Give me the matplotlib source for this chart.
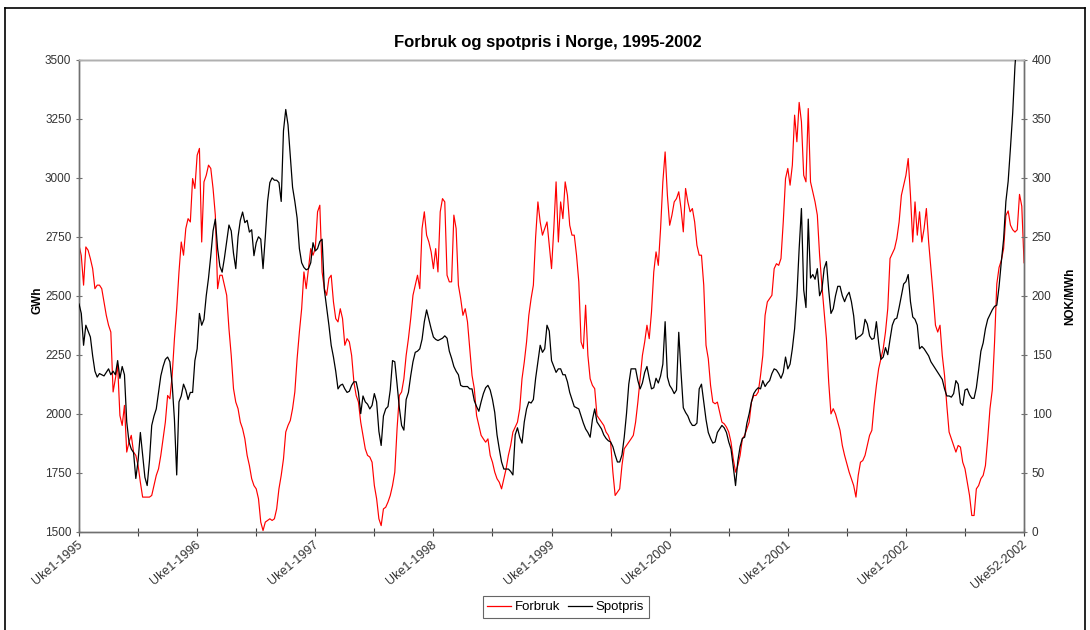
import numpy as np
import matplotlib
matplotlib.use("Agg")
import matplotlib.pyplot as plt
from matplotlib.lines import Line2D

plt.rcParams['font.family'] = ['Liberation Sans', 'DejaVu Sans']

# ukentlig forbruk (GWh), uke 1-1995 til uke 52-2002
forbruk = [
    2714, 2670, 2545, 2707, 2693, 2657, 2615, 2530, 2545, 2545, 2530, 2474, 2417, 2375, 2346, 2092,
    2148, 2205, 1992, 1950, 2035, 1837, 1879, 1908, 1837, 1823, 1780, 1709, 1646, 1646, 1646, 1646,
    1653, 1695, 1738, 1766, 1823, 1893, 1964, 2077, 2063, 2162, 2318, 2445, 2601, 2728, 2672, 2785,
    2827, 2813, 2997, 2955, 3096, 3125, 2728, 2983, 3011, 3054, 3040, 2955, 2842, 2530, 2587, 2587,
    2545, 2502, 2360, 2247, 2106, 2049, 2021, 1964, 1936, 1893, 1823, 1780, 1724, 1695, 1681, 1639,
    1540, 1504, 1540, 1547, 1554, 1547, 1554, 1596, 1681, 1738, 1808, 1922, 1950, 1971, 2021, 2092,
    2233, 2346, 2445, 2601, 2530, 2615, 2700, 2672, 2700, 2856, 2884, 2601, 2530, 2502, 2573, 2587,
    2474, 2403, 2389, 2445, 2403, 2290, 2318, 2304, 2247, 2134, 2077, 2049, 1964, 1908, 1851, 1823,
    1816, 1794, 1695, 1639, 1554, 1525, 1596, 1603, 1625, 1653, 1695, 1752, 1936, 2077, 2092, 2148,
    2247, 2318, 2403, 2502, 2545, 2587, 2530, 2785, 2856, 2757, 2728, 2686, 2615, 2700, 2601, 2856,
    2912, 2898, 2587, 2559, 2559, 2842, 2785, 2545, 2488, 2417, 2445, 2389, 2276, 2162, 2106, 1992,
    1950, 1908, 1893, 1879, 1893, 1823, 1794, 1752, 1724, 1709, 1681, 1724, 1766, 1823, 1865, 1922,
    1943, 1964, 2021, 2148, 2219, 2304, 2417, 2488, 2545, 2750, 2898, 2813, 2757, 2785, 2813, 2714,
    2615, 2785, 2983, 2728, 2898, 2827, 2983, 2926, 2799, 2757, 2757, 2672, 2559, 2304, 2276, 2460,
    2247, 2148, 2120, 2106, 1992, 1978, 1964, 1950, 1922, 1908, 1879, 1752, 1653, 1667, 1681, 1780,
    1851, 1865, 1879, 1893, 1908, 1964, 2049, 2148, 2247, 2304, 2375, 2318, 2431, 2601, 2686, 2629,
    2785, 2983, 3110, 2926, 2799, 2842, 2898, 2912, 2941, 2870, 2771, 2955, 2898, 2856, 2870, 2813,
    2714, 2672, 2672, 2545, 2290, 2233, 2120, 2049, 2042, 2049, 2007, 1964, 1957, 1943, 1922, 1879,
    1808, 1752, 1780, 1823, 1893, 1908, 1936, 1964, 2049, 2077, 2077, 2092, 2162, 2247, 2417, 2474,
    2488, 2502, 2615, 2636, 2629, 2658, 2813, 2997, 3040, 2969, 3054, 3266, 3153, 3320, 3238, 3011,
    2983, 3294, 2983, 2941, 2898, 2842, 2672, 2545, 2431, 2318, 2134, 1999, 2021, 1999, 1964, 1929,
    1865, 1823, 1787, 1752, 1724, 1695, 1646, 1738, 1794, 1801, 1823, 1865, 1908, 1929, 2035, 2120,
    2191, 2233, 2276, 2346, 2445, 2658, 2679, 2700, 2743, 2813, 2926, 2969, 3011, 3082, 2926, 2728,
    2898, 2757, 2856, 2728, 2785, 2870, 2728, 2615, 2502, 2375, 2346, 2375, 2247, 2162, 2035, 1922,
    1893, 1865, 1837, 1865, 1858, 1794, 1766, 1709, 1653, 1568, 1568, 1681, 1695, 1724, 1738, 1780,
    1893, 2021, 2100, 2300, 2550, 2620, 2650, 2700, 2840, 2860, 2800, 2780, 2770, 2780, 2930, 2880,
    2640,
]

# ukentlig spotpris (NOK/MWh)
spotpris = [
    193, 185, 158, 175, 170, 165, 149, 136, 131, 134, 133, 132, 135, 138, 133, 136,
    133, 145, 130, 140, 133, 93, 76, 70, 67, 45, 60, 84, 65, 46, 39, 60,
    90, 98, 104, 118, 132, 140, 146, 148, 144, 125, 95, 48, 110, 115, 125, 120,
    112, 118, 118, 145, 155, 185, 175, 180, 200, 215, 234, 255, 265, 240, 225, 220,
    232, 246, 260, 255, 236, 223, 250, 264, 271, 262, 264, 254, 256, 234, 245, 250,
    248, 223, 250, 280, 296, 300, 298, 298, 296, 280, 340, 358, 345, 318, 292, 280,
    266, 240, 228, 224, 222, 223, 228, 245, 238, 240, 246, 248, 205, 190, 175, 158,
    148, 136, 121, 124, 125, 121, 118, 119, 124, 127, 127, 118, 100, 115, 110, 108,
    104, 107, 117, 110, 85, 73, 98, 104, 106, 120, 145, 144, 125, 105, 90, 86,
    112, 118, 132, 144, 152, 153, 155, 163, 178, 188, 180, 172, 165, 163, 162, 163,
    164, 166, 164, 153, 147, 140, 136, 133, 124, 123, 123, 123, 121, 121, 111, 106,
    102, 110, 117, 122, 124, 120, 112, 101, 82, 70, 59, 53, 53, 53, 51, 48,
    82, 88, 80, 75, 93, 104, 110, 109, 112, 130, 144, 158, 152, 155, 175, 170,
    145, 140, 135, 138, 138, 133, 133, 127, 118, 112, 106, 105, 104, 98, 92, 87,
    84, 80, 95, 104, 93, 90, 87, 82, 79, 77, 76, 72, 65, 59, 59, 65,
    80, 100, 125, 138, 138, 138, 128, 121, 126, 135, 140, 130, 121, 122, 130, 126,
    132, 142, 178, 131, 124, 121, 117, 120, 169, 135, 105, 101, 98, 93, 90, 90,
    92, 121, 125, 110, 95, 84, 79, 75, 76, 84, 87, 90, 88, 84, 76, 70,
    55, 39, 60, 72, 79, 80, 92, 100, 110, 117, 120, 122, 121, 128, 123, 126,
    128, 134, 138, 137, 134, 130, 135, 148, 138, 142, 155, 172, 200, 240, 274, 205,
    190, 265, 215, 218, 214, 223, 200, 205, 223, 229, 205, 185, 189, 200, 208, 208,
    200, 195, 200, 203, 195, 183, 163, 165, 166, 168, 180, 176, 166, 163, 164, 178,
    160, 146, 148, 156, 150, 163, 175, 180, 181, 190, 200, 210, 212, 218, 195, 182,
    180, 175, 155, 157, 155, 152, 149, 144, 141, 138, 135, 132, 129, 121, 115, 115,
    114, 117, 128, 125, 109, 107, 120, 121, 116, 113, 113, 122, 137, 153, 160, 172,
    180, 184, 188, 191, 192, 208, 229, 248, 280, 297, 325, 355, 395, 420, 440, 455,
    470,
]

tick_labels = ["Uke1-1995", "Uke1-1996", "Uke1-1997", "Uke1-1998", "Uke1-1999",
               "Uke1-2000", "Uke1-2001", "Uke1-2002", "Uke52-2002"]

weeks = np.arange(len(forbruk))

fig = plt.figure(figsize=(10.9, 6.3), dpi=100)
ax = fig.add_axes([0.0725, 0.1563, 0.8670, 0.7485])
ax2 = ax.twinx()

ax.plot(weeks, forbruk, color='#ff0000', lw=0.85, zorder=2)
ax2.plot(weeks, spotpris, color='black', lw=0.9, zorder=3)

ax.set_xlim(0, len(forbruk) - 1)
ax.set_ylim(1500, 3500)
ax2.set_ylim(0, 400)
ax.set_yticks(np.arange(1500, 3501, 250))
ax2.set_yticks(np.arange(0, 401, 50))

# ticks every half year, labels every year
ax.set_xticks(np.arange(0, len(forbruk), 26))
lab_pos = list(range(0, 52 * 8, 52)) + [len(forbruk) - 1]
ax.set_xticklabels([])
for pos, txt in zip(lab_pos, tick_labels):
    ax.text(pos - 1, 1500 - 30, txt, rotation=40, ha='right', va='top',
            rotation_mode='anchor', fontsize=9, color='#333333')

axis_col = '#707070'
for a in (ax, ax2):
    for s in ('left', 'right', 'bottom', 'top'):
        a.spines[s].set_color(axis_col)
        a.spines[s].set_linewidth(1.0)
ax2.spines['top'].set_color('#b0b0b0')
ax.tick_params(axis='x', direction='inout', length=6, color='#404040')
ax.tick_params(axis='y', direction='inout', length=5, color=axis_col,
               labelsize=8.5, labelcolor='#333333', pad=3)
ax2.tick_params(axis='y', direction='inout', length=5, color=axis_col,
                labelsize=8.5, labelcolor='#333333', pad=3)

fig.text(0.503, 0.932, "Forbruk og spotpris i Norge, 1995-2002", ha='center', va='center',
         fontsize=12, fontweight='bold')
fig.text(0.034, 0.524, "GWh", rotation=90, ha='center', va='center',
         fontsize=8.5, fontweight='bold')
fig.text(0.982, 0.530, "NOK/MWh", rotation=90, ha='center', va='center',
         fontsize=8.5, fontweight='bold')

handles = [Line2D([], [], color='#ff0000', lw=0.9), Line2D([], [], color='black', lw=0.9)]
leg = fig.legend(handles, ["Forbruk", "Spotpris"], loc='center', ncol=2,
                 bbox_to_anchor=(0.519, 0.0365), fontsize=9.5, frameon=True,
                 fancybox=False, handlelength=1.8, handletextpad=0.3,
                 columnspacing=0.6, borderpad=0.35)
leg.get_frame().set_edgecolor('#404040')
leg.get_frame().set_linewidth(0.8)

# outer frame of the chart
for xs, ys in (([0.0046, 0.9954], [0.987, 0.987]),
               ([0.0046, 0.0046], [0.0, 0.987]),
               ([0.9954, 0.9954], [0.0, 0.987])):
    fig.add_artist(Line2D(xs, ys, color='black', lw=1.2, transform=fig.transFigure))

fig.savefig("out.png", dpi=100)
